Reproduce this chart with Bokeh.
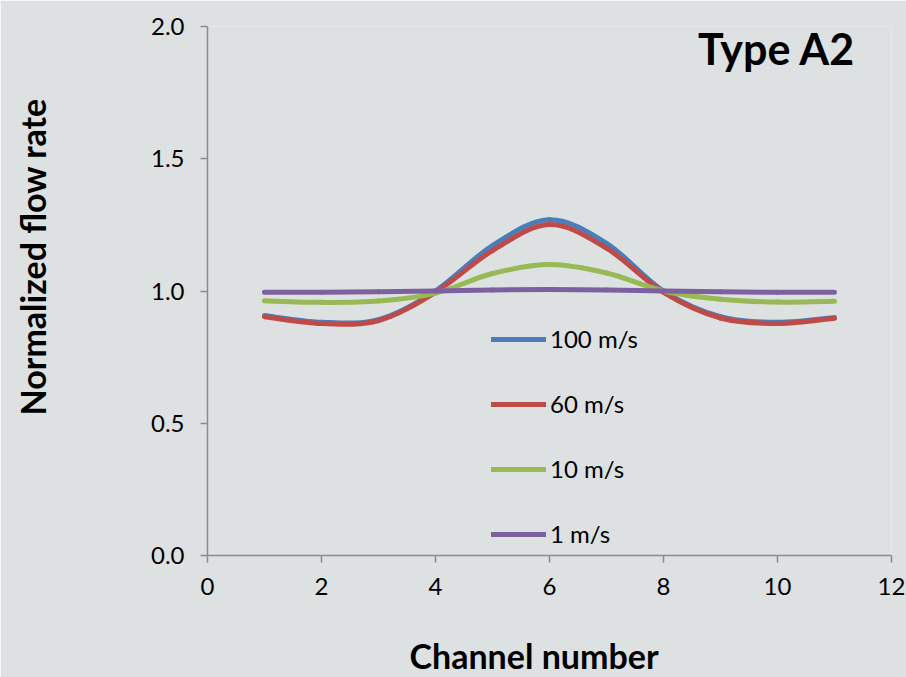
import numpy as np
from bokeh.plotting import figure
from bokeh.models import (FixedTicker, NumeralTickFormatter, Label, Legend,
                          LegendItem, ColumnDataSource, Range1d, Title, LinearAxis)
from bokeh.embed import file_html
from bokeh.resources import INLINE

channels = [1, 2, 3, 4, 5, 6, 7, 8, 9, 10, 11]
v100 = [0.907, 0.882, 0.892, 1.000, 1.172, 1.269, 1.180, 1.000, 0.903, 0.882, 0.900]
v60 = [0.903, 0.877, 0.888, 0.995, 1.153, 1.251, 1.162, 0.995, 0.898, 0.877, 0.897]
v10 = [0.963, 0.957, 0.962, 0.992, 1.066, 1.100, 1.068, 1.000, 0.969, 0.958, 0.961]
v1 = [0.995, 0.995, 0.997, 1.000, 1.004, 1.006, 1.004, 1.000, 0.997, 0.995, 0.995]
series_names = ["100 m/s", "60 m/s", "10 m/s", "1 m/s"]
x_ticks = [0, 2, 4, 6, 8, 10, 12]
y_ticks = [0.0, 0.5, 1.0, 1.5, 2.0]

colors = ["#4A7EBB", "#BE4B48", "#98B954", "#7D60A0"]
BG = "#DDE1E2"
FONT = "Lato"

p = figure(width=906, height=677, output_backend="svg", toolbar_location=None,
           x_range=Range1d(0, 12), y_range=Range1d(0, 2),
           min_border_left=207, min_border_right=15, min_border_top=26,
           min_border_bottom=122)
p.background_fill_color = BG
p.border_fill_color = BG
p.outline_line_color = None
p.xgrid.visible = False
p.ygrid.visible = False

for ax in (p.xaxis[0], p.yaxis[0]):
    ax.axis_line_color = "#8C8C8C"
    ax.axis_line_width = 1.5
    ax.major_tick_line_color = "#8C8C8C"
    ax.major_tick_line_width = 1.5
    ax.major_tick_in = 0
    ax.major_tick_out = 7
    ax.minor_tick_line_color = None
    ax.major_label_text_font = FONT
    ax.major_label_text_font_size = "24px"
    ax.major_label_text_color = "#000000"

p.xaxis[0].ticker = FixedTicker(ticks=x_ticks)
p.yaxis[0].ticker = FixedTicker(ticks=y_ticks)
p.yaxis[0].formatter = NumeralTickFormatter(format="0.0")
p.xaxis[0].major_label_standoff = 15
p.yaxis[0].major_label_standoff = 16


def bezier_source(xs, ys):
    xs = np.asarray(xs, float)
    ys = np.asarray(ys, float)
    n = len(xs)
    d = dict(x0=[], y0=[], x1=[], y1=[], cx0=[], cy0=[], cx1=[], cy1=[])
    for i in range(n - 1):
        im1 = max(i - 1, 0)
        ip2 = min(i + 2, n - 1)
        d["x0"].append(xs[i]); d["y0"].append(ys[i])
        d["x1"].append(xs[i + 1]); d["y1"].append(ys[i + 1])
        d["cx0"].append(xs[i] + (xs[i + 1] - xs[im1]) / 6.0)
        d["cy0"].append(ys[i] + (ys[i + 1] - ys[im1]) / 6.0)
        d["cx1"].append(xs[i + 1] - (xs[ip2] - xs[i]) / 6.0)
        d["cy1"].append(ys[i + 1] - (ys[ip2] - ys[i]) / 6.0)
    return ColumnDataSource(d)


items = []
for name, vals, col in zip(series_names, [v100, v60, v10, v1], colors):
    src = bezier_source(channels, vals)
    r = p.bezier(x0="x0", y0="y0", x1="x1", y1="y1", cx0="cx0", cy0="cy0",
                 cx1="cx1", cy1="cy1", source=src, line_color=col,
                 line_width=5, line_cap="round")
    items.append(LegendItem(label=name, renderers=[r]))

legend = Legend(items=items, location=(284, 7), orientation="vertical",
                glyph_width=55, glyph_height=28, label_height=28,
                spacing=36, padding=0, margin=0, label_standoff=4,
                label_text_font=FONT, label_text_font_size="24px",
                label_text_color="#000000",
                background_fill_alpha=0, border_line_color=None)
p.add_layout(legend, "center")

p.add_layout(Label(x=11.37, y=1.918, text="Type A2", text_align="right",
                   text_baseline="alphabetic", text_font=FONT,
                   text_font_style="bold", text_font_size="43px",
                   text_color="#000000"))


def spacer(size):
    # blank axis used only to reserve room between the tick labels and the title
    return LinearAxis(ticker=FixedTicker(ticks=[0]), major_tick_out=size,
                      major_tick_in=0, major_label_standoff=0,
                      major_label_overrides={0: ""},
                      axis_line_color=None, major_tick_line_color=BG,
                      major_tick_line_width=1,
                      minor_tick_line_color=None)


p.add_layout(spacer(42), "below")
xtitle = Title(text="Channel number", align="left", offset=202,
               text_font=FONT, text_font_style="bold", text_font_size="34px",
               text_color="#000000", standoff=-14)
p.add_layout(xtitle, "below")

p.add_layout(spacer(95), "left")
ytitle = Title(text="Normalized flow rate", align="left", offset=140,
               text_font=FONT, text_font_style="bold", text_font_size="34px",
               text_color="#000000", standoff=0)
p.add_layout(ytitle, "left")

open("out.html", "w").write(file_html(p, INLINE))
